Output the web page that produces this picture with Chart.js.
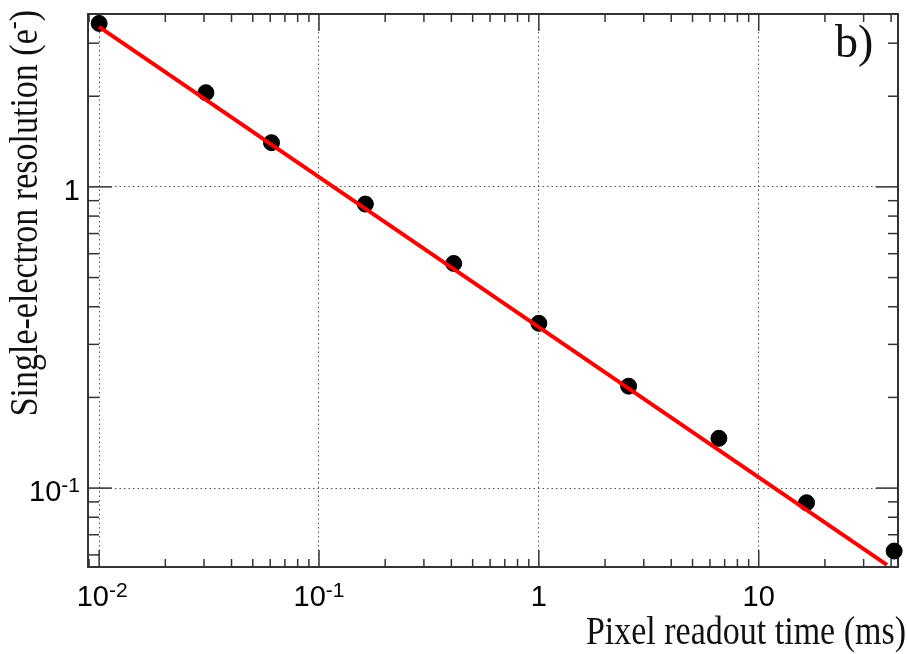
<!DOCTYPE html>
<html>
<head>
<meta charset="utf-8">
<script src="https://cdn.jsdelivr.net/npm/chart.js@4.4.1/dist/chart.umd.min.js"></script>
<style>
  html, body { margin: 0; padding: 0; background: #fff; }
  #wrap { width: 907px; height: 654px; position: relative; }
</style>
</head>
<body>
<div id="wrap"><canvas id="c"></canvas></div>
<script>
// measured points (ms, e-)
const readoutTime = [0.01, 0.0306, 0.0608, 0.1625, 0.41, 1.0, 2.56, 6.59, 16.5, 41.3];
const resolution = [3.49, 2.055, 1.402, 0.877, 0.557, 0.3525, 0.218, 0.1463, 0.0894, 0.0618];

// power-law fit, drawn as a straight line on log-log
const fitTime = [0.01, 38.3];
const fitRes = [3.40, 0.0556];

const xTickValues = [0.01, 0.1, 1, 10];
const xTickLabels = ['10^-2', '10^-1', '1', '10'];
const yTickValues = [0.1, 1];
const yTickLabels = ['10^-1', '1'];

const xTitle = 'Pixel readout time (ms)';
const yTitle = 'Single-electron resolution (e^-)';
const panelLabel = 'b)';

const SANS = '"Liberation Sans", Arial, sans-serif';
const SERIF = '"Liberation Serif", "Times New Roman", serif';

function line(ctx, x1, y1, x2, y2) {
  ctx.beginPath();
  ctx.moveTo(x1, y1);
  ctx.lineTo(x2, y2);
  ctx.stroke();
}

// all 1..9 x 10^n steps inside [min, max]
function logSteps(min, max) {
  const out = [];
  for (let e = Math.floor(Math.log10(min)); e <= Math.ceil(Math.log10(max)); e++) {
    for (let k = 1; k <= 9; k++) {
      const v = k * Math.pow(10, e);
      if (v >= min * 0.9999 && v <= max * 1.0001) out.push([v, k === 1]);
    }
  }
  return out;
}

// split "abc^-1" or "(e^-)" into normal / superscript pieces
function splitSup(text) {
  const i = text.indexOf('^');
  if (i < 0) return [[text, false]];
  const rest = text.slice(i + 1);
  const m = rest.match(/^[-+]?\d*/)[0] || rest[0];
  const parts = [[text.slice(0, i), false], [m, true]];
  if (rest.length > m.length) parts.push([rest.slice(m.length), false]);
  return parts;
}

function drawParts(ctx, text, x, y, align, font, supFont, raise) {
  const parts = splitSup(text);
  const widths = parts.map(([t, sup]) => {
    ctx.font = sup ? supFont : font;
    return ctx.measureText(t).width;
  });
  const total = widths.reduce((a, b) => a + b, 0);
  let cx = align === 'right' ? x - total : align === 'center' ? x - total / 2 : x;
  ctx.textAlign = 'left';
  ctx.textBaseline = 'alphabetic';
  parts.forEach(([t, sup], i) => {
    ctx.font = sup ? supFont : font;
    ctx.fillText(t, cx, sup ? y - raise : y);
    cx += widths[i];
  });
}

const rootFrame = {
  id: 'rootFrame',
  beforeDatasetsDraw(chart) {
    const { ctx, chartArea: a, scales: { x, y } } = chart;
    ctx.save();
    ctx.strokeStyle = '#333';
    ctx.lineWidth = 1.5;
    logSteps(x.min, x.max).forEach(([v, major]) => {
      const px = x.getPixelForValue(v);
      const len = major ? 17 : 8;
      line(ctx, px, a.bottom, px, a.bottom - len);
      line(ctx, px, a.top, px, a.top + len);
    });
    logSteps(y.min, y.max).forEach(([v, major]) => {
      const py = y.getPixelForValue(v);
      line(ctx, a.left, py, a.left + (major ? 24 : 11), py);
      line(ctx, a.right, py, a.right - (major ? 22 : 10), py);
    });
    ctx.lineWidth = 2;
    ctx.strokeRect(a.left, a.top, a.right - a.left, a.bottom - a.top);
    ctx.restore();
  },
  afterDraw(chart) {
    const { ctx, scales: { x, y } } = chart;
    ctx.save();
    ctx.fillStyle = '#000';
    const f = '29px ' + SANS, fs = '21px ' + SANS;
    xTickValues.forEach((v, i) => {
      drawParts(ctx, xTickLabels[i], x.getPixelForValue(v) + (i === 0 ? 3 : 0), 606, 'center', f, fs, 9);
    });
    yTickValues.forEach((v, i) => {
      drawParts(ctx, yTickLabels[i], 80, y.getPixelForValue(v) + 13, 'right', f, fs, 9);
    });

    // axis titles, ROOT style: right / top aligned, narrow serif
    const tf = '40px ' + SERIF, tfs = '28px ' + SERIF;
    ctx.fillStyle = '#111';
    ctx.save();
    ctx.translate(906, 644);
    ctx.scale(0.85, 1);
    drawParts(ctx, xTitle, 0, 0, 'right', tf, tfs, 16);
    ctx.restore();

    ctx.save();
    ctx.translate(37, 10);
    ctx.rotate(-Math.PI / 2);
    ctx.scale(0.85, 1);
    drawParts(ctx, yTitle, 0, 0, 'right', tf, tfs, 16);
    ctx.restore();

    ctx.font = '46px ' + SERIF;
    ctx.textAlign = 'left';
    ctx.fillText(panelLabel, 835, 57);
    ctx.restore();
  }
};

const gridStyle = { color: '#555', lineWidth: 1, drawTicks: false };
const borderStyle = { display: false, dash: [1.5, 3] };

new Chart(document.getElementById('c'), {
  type: 'scatter',
  data: {
    datasets: [
      {
        label: 'fit',
        type: 'line',
        data: fitTime.map((t, i) => ({ x: t, y: fitRes[i] })),
        borderColor: '#ff0000',
        borderWidth: 4,
        pointRadius: 0,
        fill: false,
        order: 0
      },
      {
        label: 'data',
        data: readoutTime.map((t, i) => ({ x: t, y: resolution[i] })),
        backgroundColor: '#000',
        borderColor: '#000',
        pointRadius: 8,
        pointHoverRadius: 8,
        clip: false,
        order: 1
      }
    ]
  },
  options: {
    responsive: true,
    maintainAspectRatio: false,
    animation: false,
    layout: { padding: { left: 88, top: 14, right: 4, bottom: 87 } },
    plugins: { legend: { display: false }, tooltip: { enabled: false } },
    scales: {
      x: {
        type: 'logarithmic',
        min: 0.0089,
        max: 43.0,
        afterBuildTicks: s => { s.ticks = xTickValues.map(v => ({ value: v })); },
        ticks: { display: false },
        grid: gridStyle,
        border: borderStyle
      },
      y: {
        type: 'logarithmic',
        min: 0.0547,
        max: 3.75,
        afterBuildTicks: s => { s.ticks = yTickValues.map(v => ({ value: v })); },
        ticks: { display: false },
        grid: gridStyle,
        border: borderStyle
      }
    }
  },
  plugins: [rootFrame]
});
</script>
</body>
</html>
